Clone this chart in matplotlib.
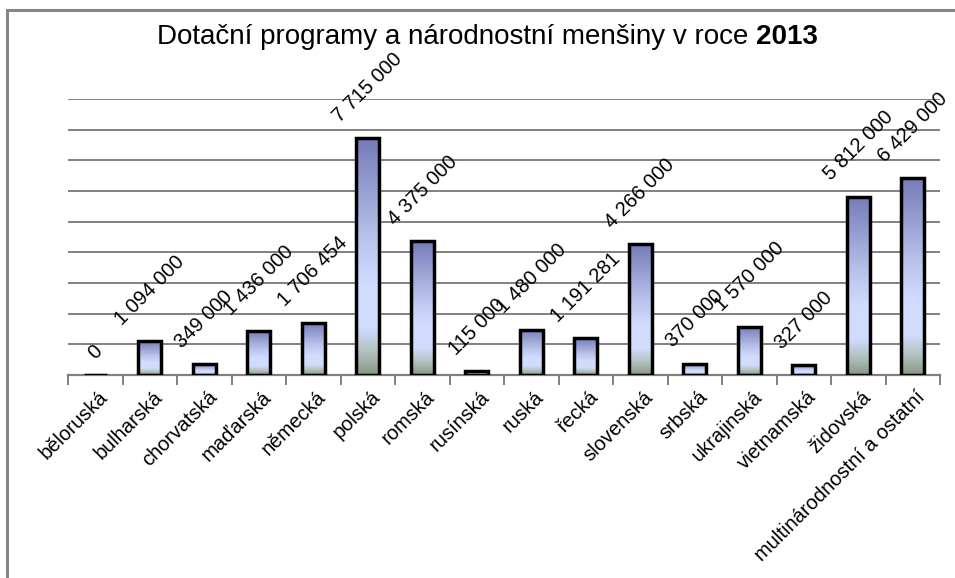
import numpy as np
import matplotlib
matplotlib.use("Agg")
import matplotlib.pyplot as plt
from matplotlib.colors import LinearSegmentedColormap
from matplotlib.lines import Line2D
import matplotlib.transforms as mtransforms

categories = ["běloruská", "bulharská", "chorvatská", "maďarská", "německá", "polská",
              "romská", "rusínská", "ruská", "řecká", "slovenská", "srbská",
              "ukrajinská", "vietnamská", "židovská", "multinárodnostní a ostatní"]
values = [0, 1094000, 349000, 1436000, 1706454, 7715000, 4375000, 115000,
          1480000, 1191281, 4266000, 370000, 1570000, 327000, 5812000, 6429000]
title_main = "Dotační programy a národnostní menšiny v roce "
title_bold = "2013"

def fmt(v):
    return f"{v:,}".replace(",", " ")

plt.rcParams['font.family'] = ['Liberation Sans', 'DejaVu Sans']

W, H = 955, 578
fig = plt.figure(figsize=(W / 100, H / 100), dpi=100)
fig.patch.set_facecolor("white")

left, right, bottom, top = 68, 940, 375, 99
ax = fig.add_axes([left / W, 1 - bottom / H, (right - left) / W, (bottom - top) / H])
ax.set_facecolor("none")

n = len(categories)
x = np.arange(n)
ax.set_xlim(-0.5, n - 0.5)
ax.set_ylim(0, 9_000_000)

# gridlines
ax.set_yticks(np.arange(1_000_000, 9_000_001, 1_000_000))
ax.yaxis.grid(True, color="#808080", lw=1.4, zorder=0)
ax.tick_params(axis="y", length=0, labelleft=False)
for s in ["left", "right", "top"]:
    ax.spines[s].set_visible(False)
ax.spines["bottom"].set_color("#808080")
ax.spines["bottom"].set_linewidth(1.6)

# gradient colormap (top -> bottom)
cmap = LinearSegmentedColormap.from_list("barg", [
    (0.0, (0.46, 0.48, 0.72)),
    (0.45, (0.74, 0.78, 0.93)),
    (0.62, (0.82, 0.86, 1.0)),
    (0.80, (0.82, 0.86, 0.99)),
    (0.90, (0.70, 0.76, 0.76)),
    (1.0, (0.53, 0.60, 0.51)),
])
grad = np.linspace(0, 1, 256).reshape(-1, 1)

bw = 0.42
bars = ax.bar(x, values, width=bw, facecolor="none", edgecolor="black",
              linewidth=2.5, zorder=3)
for b, v in zip(bars, values):
    if v <= 0:
        continue
    x0 = b.get_x()
    im = ax.imshow(grad, cmap=cmap, extent=[x0, x0 + bw, 0, v], origin="upper",
                   aspect="auto", zorder=2, interpolation="bilinear")
    im.set_clip_path(b)
ax.set_xlim(-0.5, n - 0.5)
ax.set_ylim(0, 9_000_000)

# data labels
for xi, v in zip(x, values):
    ax.annotate(fmt(v), (xi, v), xytext=(0, 9), textcoords="offset points",
                rotation=45, ha="center", va="bottom", fontsize=14.5, color="black",
                zorder=5, annotation_clip=False)

# x ticks
ax.set_xticks(x)
ax.set_xticklabels(categories, rotation=45, ha="right", rotation_mode="anchor",
                   fontsize=14.5)
ax.tick_params(axis="x", which="major", length=0, pad=9)
shift = mtransforms.ScaledTranslation(3 / 100, 0, fig.dpi_scale_trans)
for lab in ax.get_xticklabels():
    lab.set_transform(lab.get_transform() + shift)
ax.set_xticks(np.arange(-0.5, n, 1.0), minor=True)
ax.tick_params(axis="x", which="minor", length=7, width=1.4, color="#808080",
               direction="out")

# title
t1 = fig.text(0, 1 - 37 / H, title_main, fontsize=20, ha="left", va="center")
t2 = fig.text(0, 1 - 37 / H, title_bold, fontsize=20, fontweight="bold",
              ha="left", va="center")
fig.canvas.draw()
r = fig.canvas.get_renderer()
w1 = t1.get_window_extent(r).width
w2 = t2.get_window_extent(r).width
cx = 487
start = cx - (w1 + w2) / 2
t1.set_x(start / W)
t2.set_x((start + w1) / W)

# outer frame
fig.add_artist(Line2D([7 / W, 7 / W, 1.0], [0.0, 1 - 10 / H, 1 - 10 / H],
                      transform=fig.transFigure, color="#868686", lw=2.2,
                      solid_joinstyle="miter"))

fig.savefig("out.png", dpi=100)
